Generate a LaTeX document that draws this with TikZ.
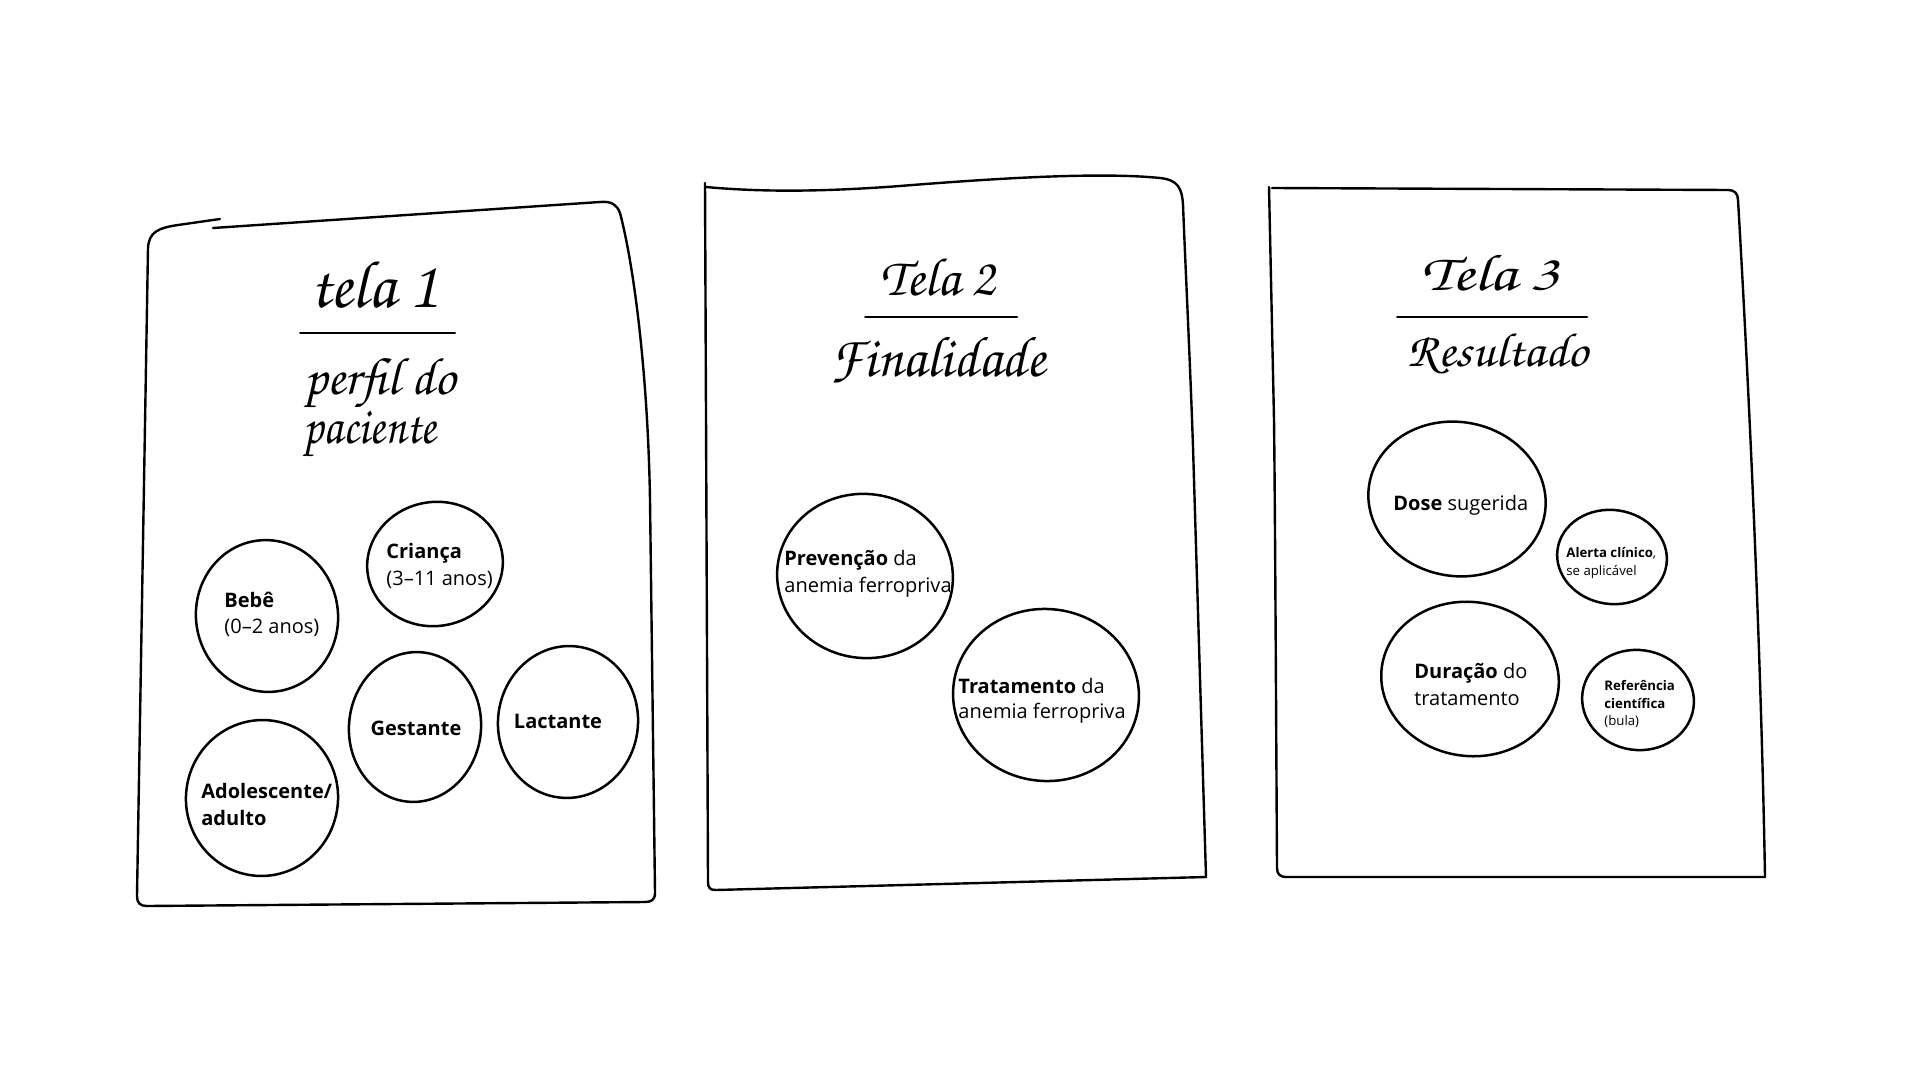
\documentclass[tikz,border=0pt]{standalone}
\usepackage[T1,TU]{fontenc}
\usepackage{fontspec}
\setmainfont{Open Sans}
\usetikzlibrary{shapes.geometric}
\newcommand\handfont{\fontencoding{T1}\fontfamily{pzc}\fontseries{mb}\fontshape{it}\selectfont}
\newcommand\hw[3]{\scalebox{#1}[#2]{#3}}
\begin{document}
\begin{tikzpicture}[x=0.5pt,y=-0.5pt,
  panel/.style={line width=1.2pt, line join=round, line cap=round},
  blob/.style={draw, ellipse, line width=1.25pt, inner sep=0pt},
  lbl/.style={font=\fontsize{10}{12}\selectfont, anchor=base west, inner sep=0pt},
  lblc/.style={font=\fontsize{10}{12}\selectfont, anchor=base, inner sep=0pt},
  small/.style={font=\fontsize{6.6}{8}\selectfont, anchor=base west, inner sep=0pt},
  hand/.style={font=\handfont\fontsize{24}{26}\selectfont, anchor=base, inner sep=0pt},
  rulel/.style={line width=1pt, line cap=round}]
\useasboundingbox (0,0) rectangle (1920,1080);
\fill[white] (0,0) rectangle (1920,1080);

% ---------- panel 1 ----------
\draw[panel] (213,228) -- (600,202) .. controls (612,201) and (617,205) .. (620,213)
  .. controls (635,270) and (648,380) .. (650,500) -- (655,893)
  .. controls (655,900) and (651,902) .. (645,902) -- (147,906)
  .. controls (140,906) and (137,903) .. (137,896) -- (148,248)
  .. controls (149,232) and (158,228) .. (178,225) -- (220,219);
\node[hand] (t1) at (374,307) {\hw{1.34}{1.4}{tela 1}};
\draw[rulel] (300,333) -- (455,333);
\node[hand] (s1a) at (380,394) {\hw{1.09}{1.1}{perfil do}};
\node[hand] (s1b) at (370,443) {\hw{0.95}{1.1}{paciente}};

\node[blob, minimum width=71pt, minimum height=76pt, rotate=8] (bebe) at (267,616) {};
\node[lbl] (bebe1) at (224,607) {\textbf{Bebê}};
\node[lbl] (bebe2) at (224,633) {(0–2 anos)};

\node[blob, minimum width=68pt, minimum height=62pt, rotate=10] (crianca) at (435,564) {};
\node[lbl] (crianca1) at (386,558) {\textbf{Criança}};
\node[lbl] (crianca2) at (386,585) {(3–11 anos)};

\node[blob, minimum width=66pt, minimum height=75pt, rotate=-6] (gest) at (415,727) {};
\node[lblc] (gest1) at (416,735) {\textbf{Gestante}};

\node[blob, minimum width=70pt, minimum height=76pt, rotate=-6] (lact) at (568,722) {};
\node[lblc] (lact1) at (558,728) {\textbf{Lactante}};

\node[blob, minimum width=76pt, minimum height=78pt, rotate=-10] (adol) at (262,798) {};
\node[lbl] (adol1) at (201,798) {\textbf{Adolescente/}};
\node[lbl] (adol2) at (201,825) {\textbf{adulto}};

% ---------- panel 2 ----------
\draw[panel] (706,187) .. controls (760,192) and (820,192) .. (900,186)
  .. controls (1000,178) and (1100,172) .. (1160,178)
  .. controls (1178,180) and (1182,188) .. (1183,205)
  .. controls (1186,280) and (1190,360) .. (1193,447) -- (1206,877)
  -- (716,890) .. controls (710,890) and (708,888) .. (708,882) -- (705,183);
\node[hand] (t2) at (938,296) {\hw{1.12}{1.12}{Tela 2}};
\draw[rulel] (865,317) -- (1017,317);
\node[hand] (s2) at (938,377) {\hw{1.17}{1.2}{Finalidade}};

\node[blob, minimum width=88pt, minimum height=82pt, rotate=-8] (prev) at (865,576) {};
\node[lbl] (prev1) at (784,565) {\textbf{Prevenção} da};
\node[lbl] (prev2) at (784,592) {anemia ferropriva};

\node[blob, minimum width=93pt, minimum height=86pt, rotate=-5] (trat) at (1046,695) {};
\node[lbl] (trat1) at (958,693) {\textbf{Tratamento} da};
\node[lbl] (trat2) at (958,718) {anemia ferropriva};

% ---------- panel 3 ----------
\draw[panel] (1272,188) -- (1728,190) .. controls (1734,190) and (1738,193) .. (1738,200)
  .. controls (1745,320) and (1760,600) .. (1765,877)
  -- (1286,877) .. controls (1280,877) and (1277,874) .. (1277,868)
  .. controls (1276,700) and (1275,500) .. (1274,420) -- (1269,187);
\node[hand] (t3) at (1490,291) {\hw{1.34}{1.08}{Tela 3}};
\draw[rulel] (1397,317) -- (1587,317);
\node[hand] (s3) at (1498,366) {\hw{1.06}{1.0}{Resultado}};

\node[blob, minimum width=89pt, minimum height=77pt, rotate=-10] (dose) at (1457,499) {};
\node[lbl] (dose1) at (1393,510) {\textbf{Dose} sugerida};

\node[blob, minimum width=55pt, minimum height=47pt, rotate=-8] (alert) at (1612,557) {};
\node[small] (alert1) at (1566,557) {\textbf{Alerta clínico},};
\node[small] (alert2) at (1566,575) {se aplicável};

\node[blob, minimum width=89pt, minimum height=77pt, rotate=-8] (dur) at (1470,679) {};
\node[lbl] (dur1) at (1414,678) {\textbf{Duração} do};
\node[lbl] (dur2) at (1414,705) {tratamento};

\node[blob, minimum width=56pt, minimum height=50pt, rotate=-8] (ref) at (1638,700) {};
\node[small] (ref1) at (1604,690) {\textbf{Referência}};
\node[small] (ref2) at (1604,708) {\textbf{científica}};
\node[small] (ref3) at (1604,725) {(bula)};
\end{tikzpicture}
\end{document}
